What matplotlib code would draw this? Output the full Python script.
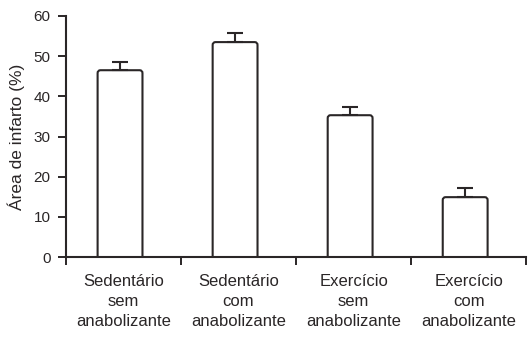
import matplotlib
matplotlib.use("Agg")
import matplotlib.pyplot as plt
from matplotlib.patches import FancyBboxPatch

plt.rcParams['font.family'] = ['Liberation Sans', 'DejaVu Sans']

categorias = ["Sedentário\nsem\nanabolizante", "Sedentário\ncom\nanabolizante",
              "Exercício\nsem\nanabolizante", "Exercício\ncom\nanabolizante"]
area_infarto = [46.5, 53.5, 35.3, 14.9]
erro = [2.0, 2.2, 2.0, 2.3]
y_ticks = [0, 10, 20, 30, 40, 50, 60]

cor = "#2a2627"

fig = plt.figure(figsize=(5.32, 3.38), dpi=100)
ax = fig.add_axes([0.124, 0.2396, 0.865, 0.7131])

x = list(range(len(categorias)))
# barras ligeiramente deslocadas para a esquerda, como no original
xb = [i - 0.03 for i in x]
bars = ax.bar(xb, area_infarto, width=0.39, color="white", edgecolor=cor, linewidth=1.5)
ax.errorbar(xb, area_infarto, yerr=[[0] * len(erro), erro], fmt="none",
            ecolor=cor, elinewidth=1.5, capsize=5.5, capthick=1.5)

# cantos arredondados
for b in bars:
    b.set_visible(False)
    fb = FancyBboxPatch((b.get_x(), -1), b.get_width(), b.get_height() + 1,
                        boxstyle="round,pad=0,rounding_size=0.025",
                        mutation_aspect=28.8, facecolor="white", edgecolor=cor,
                        linewidth=1.5, zorder=1.5)
    ax.add_patch(fb)

ax.set_xlim(-0.5, 3.5)
ax.set_ylim(0, 60)
ax.set_yticks(y_ticks)
ax.set_xticks(x)
ax.set_xticklabels(categorias, fontsize=12, color=cor, linespacing=1.42)
ax.set_xticks([-0.5, 0.5, 1.5, 2.5, 3.5], minor=True)
ax.tick_params(axis="x", which="major", length=0, pad=12)
ax.tick_params(axis="x", which="minor", length=6, width=1.4, direction="out", color=cor)
ax.tick_params(axis="y", length=6, width=1.4, direction="out", color=cor,
               labelsize=11, labelcolor=cor, pad=5)
ax.set_ylabel("Área de infarto (%)", fontsize=12.5, color=cor, labelpad=6)

for s in ["top", "right"]:
    ax.spines[s].set_visible(False)
for s in ["left", "bottom"]:
    ax.spines[s].set_linewidth(1.5)
    ax.spines[s].set_color(cor)

fig.savefig("out.png", dpi=100)
